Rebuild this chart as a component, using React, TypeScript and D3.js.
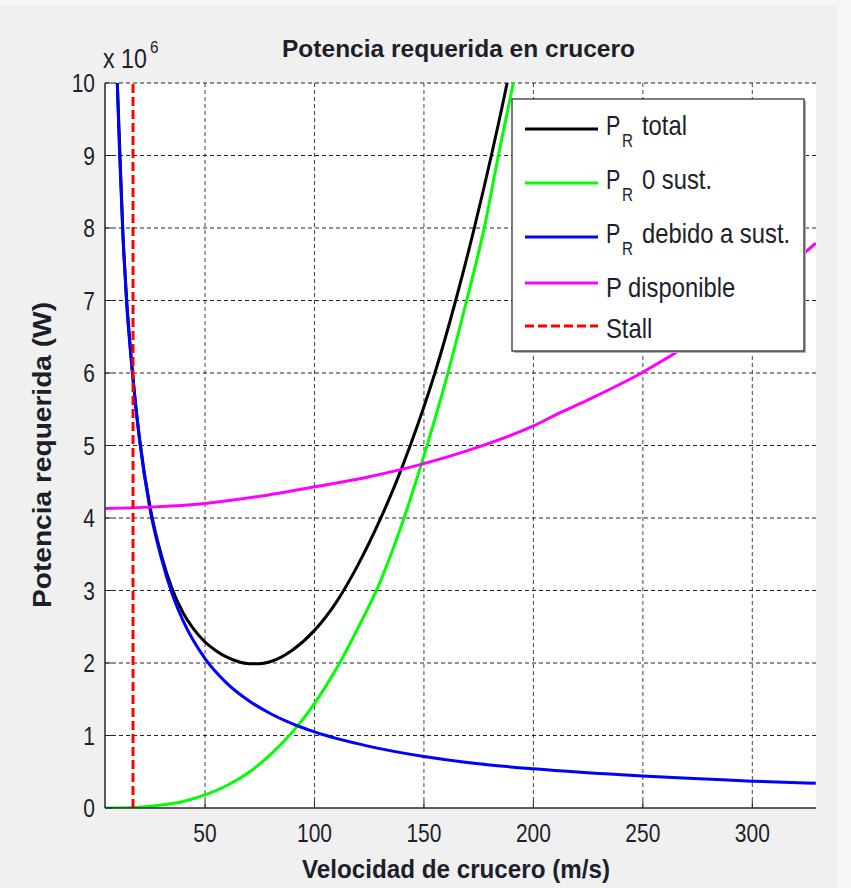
import React from "react";
import * as d3 from "d3";

// velocities (m/s) and powers (x 10^6 W)
const vBlue = [9.8, 11, 12.5, 14, 17, 20, 25, 30, 35, 40, 50, 60, 70, 80, 90, 100, 125, 150, 175, 200, 250, 300, 329];
const pBlue = [10.1, 9.0, 7.9, 7.05, 5.95, 5.1, 4.1, 3.45, 2.95, 2.58, 2.06, 1.72, 1.48, 1.3, 1.16, 1.05, 0.85, 0.71, 0.61, 0.54, 0.44, 0.37, 0.34];

const vGreen = [4.3, 10, 20, 30, 40, 50, 60, 70, 80, 90, 100, 110, 120, 130, 140, 149.7, 160.4, 169.5, 177.9, 184, 190.8, 193];
const pGreen = [0.0, 0.0015, 0.012, 0.04, 0.09, 0.18, 0.31, 0.49, 0.74, 1.05, 1.44, 1.92, 2.49, 3.12, 3.92, 4.83, 5.94, 7.0, 8.05, 9.0, 10.0, 10.35];

const vBlack = [9.8, 12.5, 17, 20, 25, 30, 35, 40, 45, 50, 55, 60, 65, 70, 75, 80, 90, 100, 110, 120, 130, 137, 144, 155, 164.5, 173, 180.8, 188, 190];
const pBlack = [10.1, 7.9, 5.96, 5.11, 4.13, 3.49, 3.02, 2.69, 2.46, 2.29, 2.17, 2.08, 2.02, 1.99, 1.99, 2.02, 2.18, 2.45, 2.84, 3.36, 3.98, 4.47, 5.02, 6.0, 7.0, 8.0, 9.0, 10.0, 10.3];

const vMagenta = [4.3, 25, 50, 75, 100, 125, 150, 175, 200, 212, 225, 250, 275, 300, 329];
const pMagenta = [4.13, 4.15, 4.2, 4.3, 4.43, 4.57, 4.75, 4.98, 5.27, 5.45, 5.63, 6.01, 6.48, 7.05, 7.79];

const vStall = 17.1;

const xTicks = [50, 100, 150, 200, 250, 300];
const yTicks = [0, 1, 2, 3, 4, 5, 6, 7, 8, 9, 10];

const series = [
  { name: "total", sub: true, color: "#000000", v: vBlack, p: pBlack },
  { name: "0 sust.", sub: true, color: "#00ff00", v: vGreen, p: pGreen },
  { name: "debido a sust.", sub: true, color: "#0000ff", v: vBlue, p: pBlue },
  { name: "P disponible", sub: false, color: "#ff00ff", v: vMagenta, p: pMagenta },
];

const FONT = "'Liberation Sans', Arial, sans-serif";
const INK = "#1e1e2a";

function T({ x, y, size, sx = 0.87, anchor = "start", bold = false, children }: any) {
  return (
    <text
      transform={`translate(${x},${y}) scale(${sx},1)`}
      fontSize={size}
      fontFamily={FONT}
      fontWeight={bold ? "bold" : "normal"}
      textAnchor={anchor}
      fill={INK}
    >
      {children}
    </text>
  );
}

export default function App() {
  const left = 105, right = 816, top = 83, bottom = 808;
  const x = d3.scaleLinear().domain([4.3, 329.1]).range([left, right]);
  const y = d3.scaleLinear().domain([0, 10]).range([bottom, top]);

  const line = (v: number[], p: number[]) =>
    d3.line<number>().x((_, i) => x(v[i])).y((d) => y(d)).curve(d3.curveMonotoneX)(p) || "";

  const legendY = [129, 183, 237, 283, 326];

  return (
    <svg width={851} height={888} style={{ position: "absolute", left: 0, top: 0, background: "#f0f0f0" }}>
      <rect x={0} y={0} width={851} height={5} fill="#f7f7f7" />
      <rect x={838} y={0} width={13} height={888} fill="#f7f7f7" />
      <defs>
        <clipPath id="plot">
          <rect x={left} y={top} width={right - left} height={bottom - top} />
        </clipPath>
      </defs>
      <rect x={left} y={top} width={right - left} height={bottom - top} fill="#fff" />

      {/* grid */}
      {xTicks.map((t) => (
        <line key={"gx" + t} x1={x(t)} x2={x(t)} y1={top} y2={bottom} stroke="#444" strokeDasharray="4,3" />
      ))}
      {yTicks.filter((t) => t > 0).map((t) => (
        <line key={"gy" + t} x1={left} x2={right} y1={y(t)} y2={y(t)} stroke="#222" strokeDasharray="4,3" />
      ))}

      {/* curves */}
      <g clipPath="url(#plot)" fill="none" strokeWidth={3}>
        {series.map((s) => (
          <path key={s.name} d={line(s.v, s.p)} stroke={s.color} />
        ))}
        <line x1={x(vStall)} x2={x(vStall)} y1={y(0)} y2={y(10)} stroke="#ff0000" strokeDasharray="9,4" />
      </g>

      {/* axes */}
      <line x1={left} x2={left} y1={top} y2={bottom} stroke="#262626" strokeWidth={1.5} />
      <line x1={left} x2={right} y1={bottom} y2={bottom} stroke="#262626" strokeWidth={1.5} />
      {yTicks.map((t) => (
        <g key={"ty" + t}>
          <line x1={left} x2={left + 7} y1={y(t)} y2={y(t)} stroke="#262626" />
          <T x={95} y={y(t) + 9} size={25} sx={0.84} anchor="end">{t}</T>
        </g>
      ))}
      {xTicks.map((t) => (
        <g key={"tx" + t}>
          <line x1={x(t)} x2={x(t)} y1={bottom} y2={bottom - 7} stroke="#262626" />
          <T x={x(t)} y={842} size={25} sx={0.84} anchor="middle">{t}</T>
        </g>
      ))}

      <T x={103} y={68} size={27} sx={0.86}>x 10</T>
      <T x={150} y={53} size={17} sx={0.9}>6</T>

      <text x={282} y={57} fontSize={24} fontWeight="bold" fontFamily={FONT} fill={INK} textLength={353} lengthAdjust="spacingAndGlyphs">
        Potencia requerida en crucero
      </text>
      <text x={302} y={878} fontSize={25} fontWeight="bold" fontFamily={FONT} fill={INK} textLength={308} lengthAdjust="spacingAndGlyphs">
        Velocidad de crucero (m/s)
      </text>
      <text transform="translate(51,455) rotate(-90)" fontSize={25} fontWeight="bold" fontFamily={FONT} fill={INK} textAnchor="middle" textLength={306} lengthAdjust="spacingAndGlyphs">
        Potencia requerida (W)
      </text>

      {/* legend */}
      <rect x={514} y={101} width={292} height={252} fill="#b0b0b0" />
      <rect x={512} y={99} width={292} height={252} fill="#fff" stroke="#262626" strokeWidth={1.2} />
      {series.map((s, i) => (
        <g key={"lg" + s.name}>
          <line x1={525} x2={598} y1={legendY[i]} y2={legendY[i]} stroke={s.color} strokeWidth={3} />
          {s.sub ? (
            <>
              <T x={606} y={legendY[i] + 6} size={28} sx={0.77}>P</T>
              <T x={622} y={legendY[i] + 18} size={19} sx={0.8}>R</T>
              <T x={642} y={legendY[i] + 6} size={28} sx={0.85}>{s.name}</T>
            </>
          ) : (
            <T x={606} y={legendY[i] + 14} size={28} sx={0.85}>{s.name}</T>
          )}
        </g>
      ))}
      <line x1={525} x2={598} y1={legendY[4]} y2={legendY[4]} stroke="#ff0000" strokeWidth={3} strokeDasharray="9,4" />
      <T x={606} y={legendY[4] + 12} size={28} sx={0.85}>Stall</T>
    </svg>
  );
}
